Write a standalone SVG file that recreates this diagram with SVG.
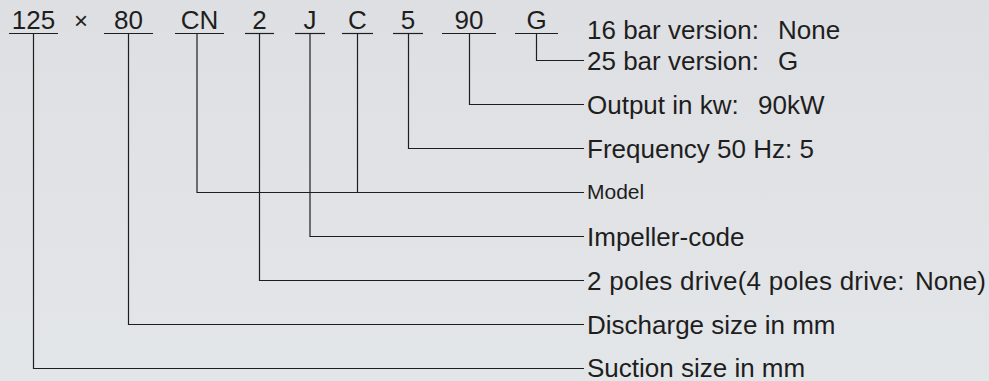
<svg xmlns="http://www.w3.org/2000/svg" width="989" height="381" viewBox="0 0 989 381">
<defs>
<linearGradient id="bg" x1="0" y1="0" x2="0" y2="1">
<stop offset="0" stop-color="#dedfe2"/>
<stop offset="1" stop-color="#e3e6e8"/>
</linearGradient>
</defs>
<style>
.code{font-family:"Liberation Sans",Arial,"Noto Sans CJK SC",sans-serif;font-size:26px;fill:#1e1e1e;text-anchor:middle}
.lbl{font-family:"Liberation Sans",Arial,"Noto Sans CJK SC",sans-serif;font-size:26px;fill:#1e1e1e}
.small{font-size:21px}
.ln{fill:none;stroke:#1e1e1e;stroke-width:1.2}
</style>
<rect width="989" height="381" fill="url(#bg)"/>
<g id="code-125"><text class="code" x="33.5" y="29">125</text><line class="ln" x1="9" y1="33.5" x2="58" y2="33.5"/></g>
<g id="code-x"><text class="code" x="81" y="28.5" style="font-size:24px">×</text></g>
<g id="code-80"><text class="code" x="128.5" y="29">80</text><line class="ln" x1="104" y1="33.5" x2="153" y2="33.5"/></g>
<g id="code-CN"><text class="code" x="199.5" y="29">CN</text><line class="ln" x1="175" y1="33.5" x2="224" y2="33.5"/></g>
<g id="code-2"><text class="code" x="259.5" y="29">2</text><line class="ln" x1="245" y1="33.5" x2="274" y2="33.5"/></g>
<g id="code-J"><text class="code" x="310" y="29">J</text><line class="ln" x1="295" y1="33.5" x2="325" y2="33.5"/></g>
<g id="code-C"><text class="code" x="357.5" y="29">C</text><line class="ln" x1="342" y1="33.5" x2="373" y2="33.5"/></g>
<g id="code-5"><text class="code" x="408" y="29">5</text><line class="ln" x1="393" y1="33.5" x2="423" y2="33.5"/></g>
<g id="code-90"><text class="code" x="469" y="29">90</text><line class="ln" x1="442" y1="33.5" x2="496" y2="33.5"/></g>
<g id="code-G"><text class="code" x="536.5" y="29">G</text><line class="ln" x1="515" y1="33.5" x2="558" y2="33.5"/></g>
<g id="labels">
<g id="lbl-16bar"><text class="lbl" x="587" y="39">16 bar version:<tspan x="778">None</tspan></text></g>
<g id="lbl-25bar"><text class="lbl" x="587" y="70">25 bar version:<tspan x="778">G</tspan></text></g>
<g id="lbl-output"><text class="lbl" x="587" y="114">Output in kw:<tspan x="758">90kW</tspan></text></g>
<g id="lbl-freq"><text class="lbl" x="587" y="158">Frequency 50 Hz: 5</text></g>
<g id="lbl-model"><text class="lbl small" x="587" y="199">Model</text></g>
<g id="lbl-impeller"><text class="lbl" x="587" y="246">Impeller-code</text></g>
<g id="lbl-poles"><text class="lbl" x="587" y="290"><tspan letter-spacing="0.25">2 poles drive(4 poles drive</tspan>:<tspan x="915">None)</tspan></text></g>
<g id="lbl-discharge"><text class="lbl" x="587" y="334">Discharge size in mm</text></g>
<g id="lbl-suction"><text class="lbl" x="587" y="376.5">Suction size in mm</text></g>
</g>
<g id="connectors">
<polyline class="ln" points="536.5,33.5 536.5,60.5 584,60.5"/>
<polyline class="ln" points="469.5,33.5 469.5,104.5 584,104.5"/>
<polyline class="ln" points="408.5,33.5 408.5,148.5 584,148.5"/>
<polyline class="ln" points="197,33.5 197,192.5 584,192.5"/>
<line class="ln" x1="357.5" y1="33.5" x2="357.5" y2="192.5"/>
<polyline class="ln" points="310,33.5 310,236.5 584,236.5"/>
<polyline class="ln" points="259.5,33.5 259.5,280.5 584,280.5"/>
<polyline class="ln" points="128.5,33.5 128.5,324.5 584,324.5"/>
<polyline class="ln" points="33.5,33.5 33.5,368.5 584,368.5"/>
</g>
</svg>
